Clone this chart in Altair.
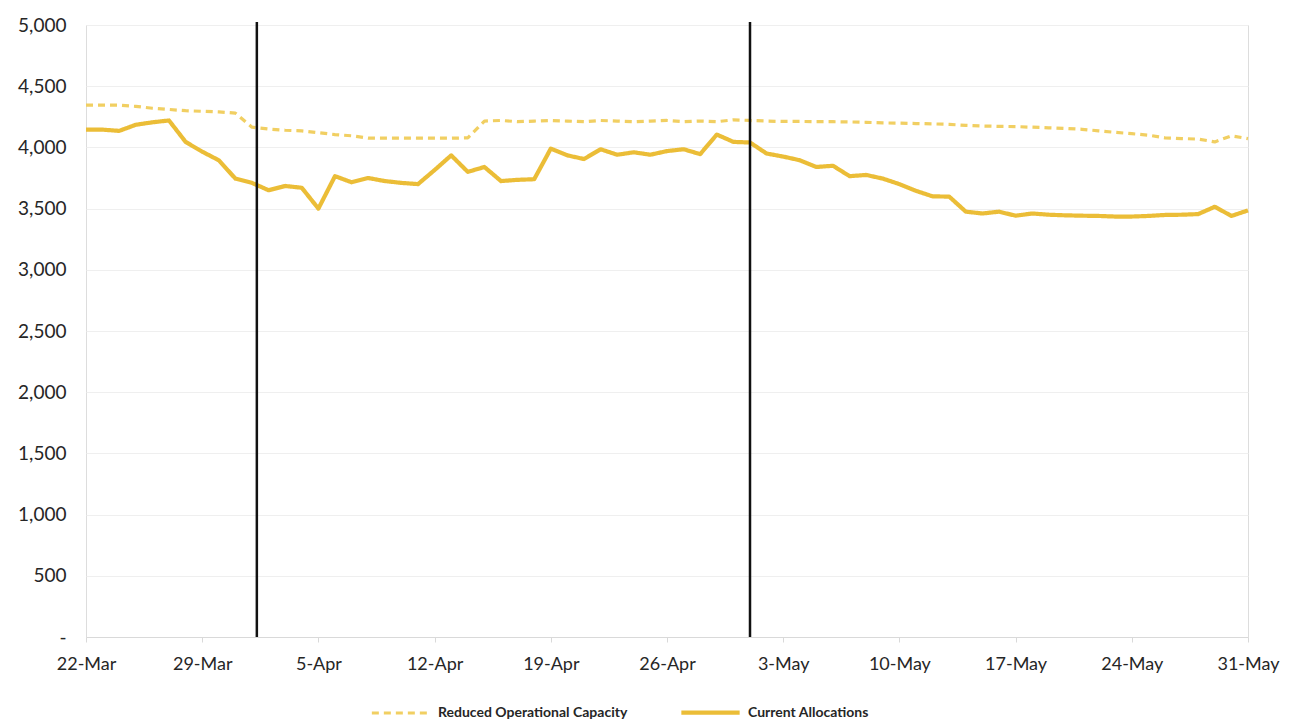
import altair as alt
import pandas as pd

start_date = "2020-03-22"
n_days = 71

reduced_capacity = [
    4345, 4345, 4345, 4335, 4320, 4310, 4300, 4295, 4290, 4280,
    4165, 4150, 4140, 4135, 4120, 4105, 4095, 4075, 4075, 4075,
    4075, 4075, 4075, 4078, 4215, 4220, 4210, 4215, 4220, 4215,
    4210, 4220, 4215, 4210, 4215, 4220, 4210, 4215, 4210, 4225,
    4220, 4215, 4212, 4212, 4210, 4210, 4208, 4205, 4200, 4198,
    4195, 4192, 4188, 4180, 4175, 4172, 4170, 4165, 4160, 4155,
    4148, 4135, 4123, 4112, 4100, 4078, 4072, 4068, 4045, 4095,
    4072,
]

current_allocations = [
    4145, 4145, 4135, 4185, 4205, 4220, 4045, 3965, 3895, 3745,
    3710, 3650, 3685, 3670, 3500, 3765, 3715, 3750, 3725, 3710,
    3700, 3815, 3935, 3800, 3840, 3725, 3735, 3740, 3990, 3935,
    3905, 3985, 3940, 3960, 3940, 3970, 3985, 3945, 4105, 4045,
    4040, 3950, 3925, 3895, 3840, 3850, 3765, 3775, 3745, 3700,
    3645, 3600, 3598, 3475, 3460, 3475, 3442, 3460, 3450, 3445,
    3442, 3440, 3435, 3435, 3440, 3448, 3450, 3455, 3515, 3440,
    3485,
]

series_names = ["Reduced Operational Capacity", "Current Allocations"]
series_colors = ["#F1CF62", "#EBBD37"]
event_dates = ["2020-04-01T07:00:00", "2020-05-01T00:00:00"]
tick_dates = [(3, 22), (3, 29), (4, 5), (4, 12), (4, 19), (4, 26),
              (5, 3), (5, 10), (5, 17), (5, 24), (5, 31)]

dates = pd.date_range(start_date, periods=n_days).strftime("%Y-%m-%dT%H:%M:%S").tolist()

df = pd.concat([
    pd.DataFrame({"date": dates, "value": reduced_capacity, "series": series_names[0]}),
    pd.DataFrame({"date": dates, "value": current_allocations, "series": series_names[1]}),
])
ev = pd.DataFrame({"date": event_dates})

font = "Lato"
label_color = "#262626"

legend_cfg = dict(
    title=None, orient="none", direction="horizontal",
    legendX=284, legendY=656,
    symbolType="stroke", symbolSize=3400, symbolStrokeWidth=4,
    labelFont=font, labelFontSize=14, labelFontWeight="bold",
    labelColor=label_color, columnPadding=44, labelOffset=6,
    labelLimit=400,
)

x_enc = alt.X(
    "date:T",
    scale=alt.Scale(domain=[alt.DateTime(year=2020, month=3, date=22),
                            alt.DateTime(year=2020, month=5, date=31)]),
    axis=alt.Axis(
        values=[alt.DateTime(year=2020, month=m, date=d) for m, d in tick_dates],
        format="%-d-%b", title=None, grid=False,
        labelFont=font, labelFontSize=18, labelColor=label_color,
        labelPadding=13, tickSize=5, tickColor="#D9D9D9",
        domainColor="#D9D9D9", labelFlush=False,
    ),
)

lines = alt.Chart(df).mark_line(strokeCap="butt", strokeJoin="round").encode(
    x=x_enc,
    y=alt.Y(
        "value:Q",
        scale=alt.Scale(domain=[0, 5000]),
        axis=alt.Axis(
            values=list(range(0, 5001, 500)), title=None,
            labelExpr="datum.value == 0 ? '-' : format(datum.value, ',')",
            labelFont=font, labelFontSize=19, labelColor=label_color,
            labelPadding=20, ticks=False, domain=False,
            gridColor="#EFEFEF", gridWidth=1,
        ),
    ),
    color=alt.Color(
        "series:N",
        scale=alt.Scale(domain=series_names, range=series_colors),
        legend=alt.Legend(**legend_cfg),
    ),
    strokeDash=alt.StrokeDash(
        "series:N",
        scale=alt.Scale(domain=series_names, range=[[7, 5], [1, 0]]),
        legend=alt.Legend(**legend_cfg),
    ),
    strokeWidth=alt.StrokeWidth(
        "series:N",
        scale=alt.Scale(domain=series_names, range=[3.2, 4.2]),
        legend=None,
    ),
)

rules = alt.Chart(ev).mark_rule(color="#111111", strokeWidth=2.5).encode(
    x="date:T",
    y=alt.value(-3),
    y2=alt.value(612),
)

chart = alt.layer(lines, rules).properties(
    width=1162, height=612,
    autosize=alt.AutoSizeParams(type="none"),
    padding={"left": 78, "top": 17, "right": 34, "bottom": 88},
).configure_view(stroke=None).configure(background="white")

chart.save("out.html", embed_options={"renderer": "svg", "actions": False})
